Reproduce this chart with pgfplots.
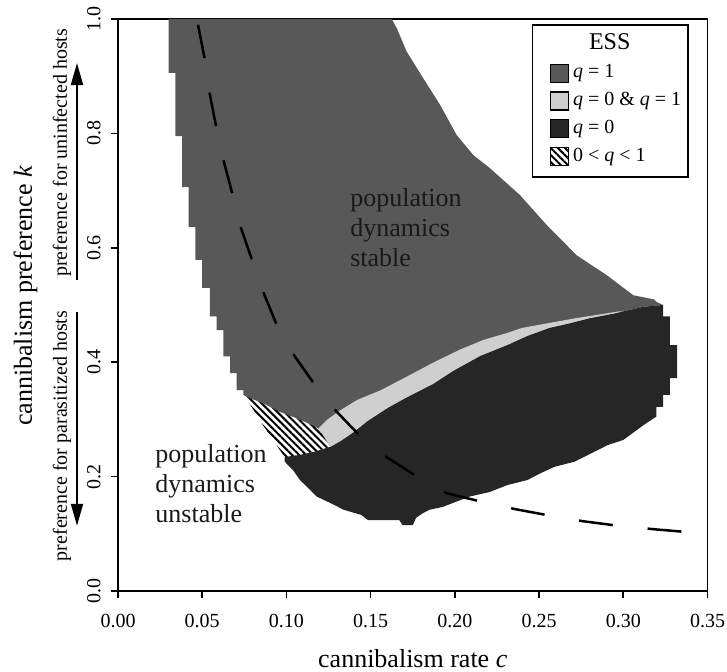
\documentclass[border=0pt]{standalone}
\usepackage{fontspec}
\setmainfont{Liberation Serif}
\usepackage{pgfplots}
\pgfplotsset{compat=1.18}
\usetikzlibrary{patterns.meta,arrows.meta}

\definecolor{essone}{RGB}{88,88,88}
\definecolor{essboth}{RGB}{207,207,207}
\definecolor{esszero}{RGB}{38,38,38}
\tikzset{hatch/.style={pattern={Lines[angle=-45,distance=2.5pt,line width=1pt]}}}

\begin{document}
\begin{tikzpicture}
\begin{axis}[
  at={(0,0)}, anchor=south west,
  scale only axis, width=294.75pt, height=286pt,
  xmin=0, xmax=0.35, ymin=0, ymax=1,
  xtick={0,0.05,0.1,0.15,0.2,0.25,0.3,0.35},
  ytick={0,0.2,0.4,0.6,0.8,1},
  tick align=outside, tick pos=left,
  major tick length=3.5pt,
  axis line style={line width=0.8pt},
  every tick/.append style={line width=0.8pt, black},
  clip=false,
  tick label style={font=\fontsize{10}{12}\selectfont,
    /pgf/number format/assume math mode=true},
  xticklabel style={anchor=north, inner sep=0pt, yshift=-8pt,
    /pgf/number format/fixed, /pgf/number format/fixed zerofill,
    /pgf/number format/precision=2},
  yticklabel style={xshift=-5pt, rotate=90, anchor=south, inner sep=0pt,
    /pgf/number format/fixed, /pgf/number format/fixed zerofill,
    /pgf/number format/precision=1},
  every axis x label/.style={at={(axis description cs:0.5,0)}, yshift=-38.5pt,
    anchor=base, font=\fontsize{13}{15}\selectfont},
  every axis y label/.style={at={(axis description cs:0,0.516)}, xshift=-43pt,
    rotate=90, anchor=base, font=\fontsize{13}{15}\selectfont},
  xlabel={cannibalism rate \textit{c}},
  ylabel={cannibalism preference \textit{k}},
  legend style={at={(0.9686,0.991)}, anchor=north east, draw=black,
    line width=0.8pt, fill=white, inner xsep=1.5pt, inner ysep=3.5pt,
    row sep=0.5pt, font=\fontsize{10}{12}\selectfont, cells={anchor=west},
    nodes={inner sep=2pt, text height=7pt, text depth=2.4pt}},
  legend image code/.code={\path (0pt,0pt);
    \filldraw[#1, draw=black, line width=0.6pt] (7pt,-4.5pt) rectangle (16pt,4.5pt);},
]

% q = 1
\addplot[fill=essone, draw=none, forget plot] coordinates {
  (0.030,1.0) (0.030,0.906) (0.034,0.906) (0.034,0.795) (0.038,0.795)
  (0.038,0.706) (0.042,0.706) (0.042,0.636) (0.046,0.636) (0.046,0.579)
  (0.050,0.579) (0.050,0.530) (0.0546,0.530) (0.0546,0.48) (0.0586,0.48)
  (0.0586,0.456) (0.0625,0.456) (0.0625,0.41) (0.0665,0.41) (0.0665,0.381)
  (0.0705,0.381) (0.0705,0.351) (0.0744,0.351) (0.0744,0.343)
  (0.0784,0.337) (0.0863,0.328) (0.0962,0.313) (0.1061,0.302) (0.116,0.289)
  (0.119,0.284) (0.126,0.252)
  (0.132,0.262) (0.140,0.278) (0.148,0.297) (0.160,0.320) (0.171,0.338)
  (0.187,0.362) (0.199,0.385) (0.215,0.411) (0.231,0.430) (0.243,0.446)
  (0.256,0.460) (0.268,0.468) (0.280,0.477) (0.296,0.486) (0.312,0.497)
  (0.3236,0.500) (0.320,0.505) (0.318,0.510) (0.306,0.517) (0.2902,0.552)
  (0.2723,0.587) (0.2545,0.640) (0.2387,0.692) (0.2209,0.739) (0.2110,0.762)
  (0.2011,0.797) (0.1912,0.850) (0.1813,0.896) (0.1714,0.943) (0.1655,0.984)
  (0.1625,1.0)
} -- cycle;

% q = 0
\addplot[fill=esszero, draw=none, forget plot] coordinates {
  (0.099,0.234) (0.103,0.236) (0.108,0.238) (0.116,0.243) (0.126,0.252)
  (0.132,0.262) (0.140,0.278) (0.148,0.297) (0.160,0.320) (0.171,0.338)
  (0.187,0.362) (0.199,0.385) (0.215,0.411) (0.231,0.430) (0.243,0.446)
  (0.256,0.460) (0.268,0.468) (0.280,0.477) (0.296,0.486) (0.312,0.497)
  (0.3236,0.500) (0.3236,0.48) (0.3276,0.48) (0.3276,0.43) (0.332,0.43)
  (0.332,0.372) (0.3276,0.372) (0.3276,0.343) (0.3236,0.343) (0.3236,0.322)
  (0.3197,0.322) (0.3197,0.305) (0.312,0.29) (0.300,0.264) (0.2906,0.255)
  (0.2826,0.243) (0.271,0.226) (0.259,0.217) (0.251,0.206) (0.243,0.194)
  (0.231,0.185) (0.2206,0.173) (0.2087,0.165) (0.1928,0.147) (0.1849,0.142)
  (0.1810,0.136) (0.1770,0.128) (0.1750,0.115) (0.1690,0.115) (0.1670,0.124)
  (0.1484,0.124) (0.1444,0.133) (0.134,0.142) (0.126,0.154) (0.118,0.165)
  (0.114,0.177) (0.108,0.194) (0.104,0.211) (0.099,0.226)
} -- cycle;

% q = 0 & q = 1
\addplot[fill=essboth, draw=none, forget plot] coordinates {
  (0.119,0.284) (0.124,0.299) (0.132,0.316) (0.142,0.334) (0.156,0.351)
  (0.171,0.374) (0.187,0.399) (0.203,0.422) (0.217,0.439) (0.231,0.451)
  (0.240,0.460) (0.257,0.469) (0.272,0.477) (0.285,0.483) (0.300,0.490)
  (0.296,0.486) (0.280,0.477) (0.268,0.468) (0.256,0.460) (0.243,0.446)
  (0.231,0.430) (0.215,0.411) (0.199,0.385) (0.187,0.362) (0.171,0.338)
  (0.160,0.320) (0.148,0.297) (0.140,0.278) (0.132,0.262) (0.126,0.252)
} -- cycle;

% 0 < q < 1
\addplot[hatch, draw=none, forget plot] coordinates {
  (0.0744,0.343) (0.0784,0.337) (0.0863,0.328) (0.0962,0.313) (0.1061,0.302)
  (0.116,0.289) (0.119,0.284) (0.126,0.252) (0.116,0.243) (0.108,0.238)
  (0.103,0.236) (0.099,0.234) (0.0962,0.246) (0.0902,0.272) (0.0863,0.289)
  (0.0784,0.326) (0.0744,0.340)
} -- cycle;

% stability boundary
\addplot[black, line width=1.25pt, dash pattern=on 17pt off 17.5pt, forget plot] coordinates {
  (0.0475,0.99) (0.0515,0.93) (0.0544,0.87) (0.0584,0.81) (0.0629,0.75)
  (0.0683,0.69) (0.073,0.635) (0.080,0.575) (0.087,0.517) (0.095,0.46)
  (0.105,0.41) (0.117,0.36) (0.130,0.313) (0.144,0.27) (0.160,0.233)
  (0.1775,0.2) (0.195,0.171) (0.216,0.156) (0.236,0.143) (0.256,0.132)
  (0.276,0.122) (0.297,0.114) (0.318,0.108) (0.338,0.103)
};

\addlegendimage{empty legend}
\addlegendentry{\hspace*{8pt}\fontsize{12}{14}\selectfont ESS}
\addlegendimage{fill=essone}
\addlegendentry{\textit{q} = 1}
\addlegendimage{fill=essboth}
\addlegendentry{\textit{q} = 0 \& \textit{q} = 1}
\addlegendimage{fill=esszero}
\addlegendentry{\textit{q} = 0}
\addlegendimage{hatch}
\addlegendentry{0 < \textit{q} < 1}

\node[anchor=west, align=left, inner sep=0pt, text=black!90,
  font=\fontsize{13}{15}\selectfont] at (axis cs:0.1377,0.636)
  {population\\dynamics\\stable};
\node[anchor=west, align=left, inner sep=0pt, text=black!90,
  font=\fontsize{13}{15}\selectfont] at (axis cs:0.022,0.187)
  {population\\dynamics\\unstable};

\draw[line width=1pt, -{Triangle[length=11pt,width=6pt]}]
  ([xshift=-20.5pt]axis cs:0,0.544) -- ([xshift=-20.5pt]axis cs:0,0.923);
\draw[line width=1pt, -{Triangle[length=11pt,width=6pt]}]
  ([xshift=-20.5pt]axis cs:0,0.488) -- ([xshift=-20.5pt]axis cs:0,0.114);
\node[rotate=90, font=\fontsize{10}{12}\selectfont]
  at ([xshift=-28pt]axis cs:0,0.766) {preference for uninfected hosts};
\node[rotate=90, font=\fontsize{10}{12}\selectfont]
  at ([xshift=-28pt]axis cs:0,0.271) {preference for parasitized hosts};
\end{axis}
\pgfresetboundingbox
\path (-59pt,-40.5pt) rectangle (304.5pt,295.5pt);
\end{tikzpicture}
\end{document}
